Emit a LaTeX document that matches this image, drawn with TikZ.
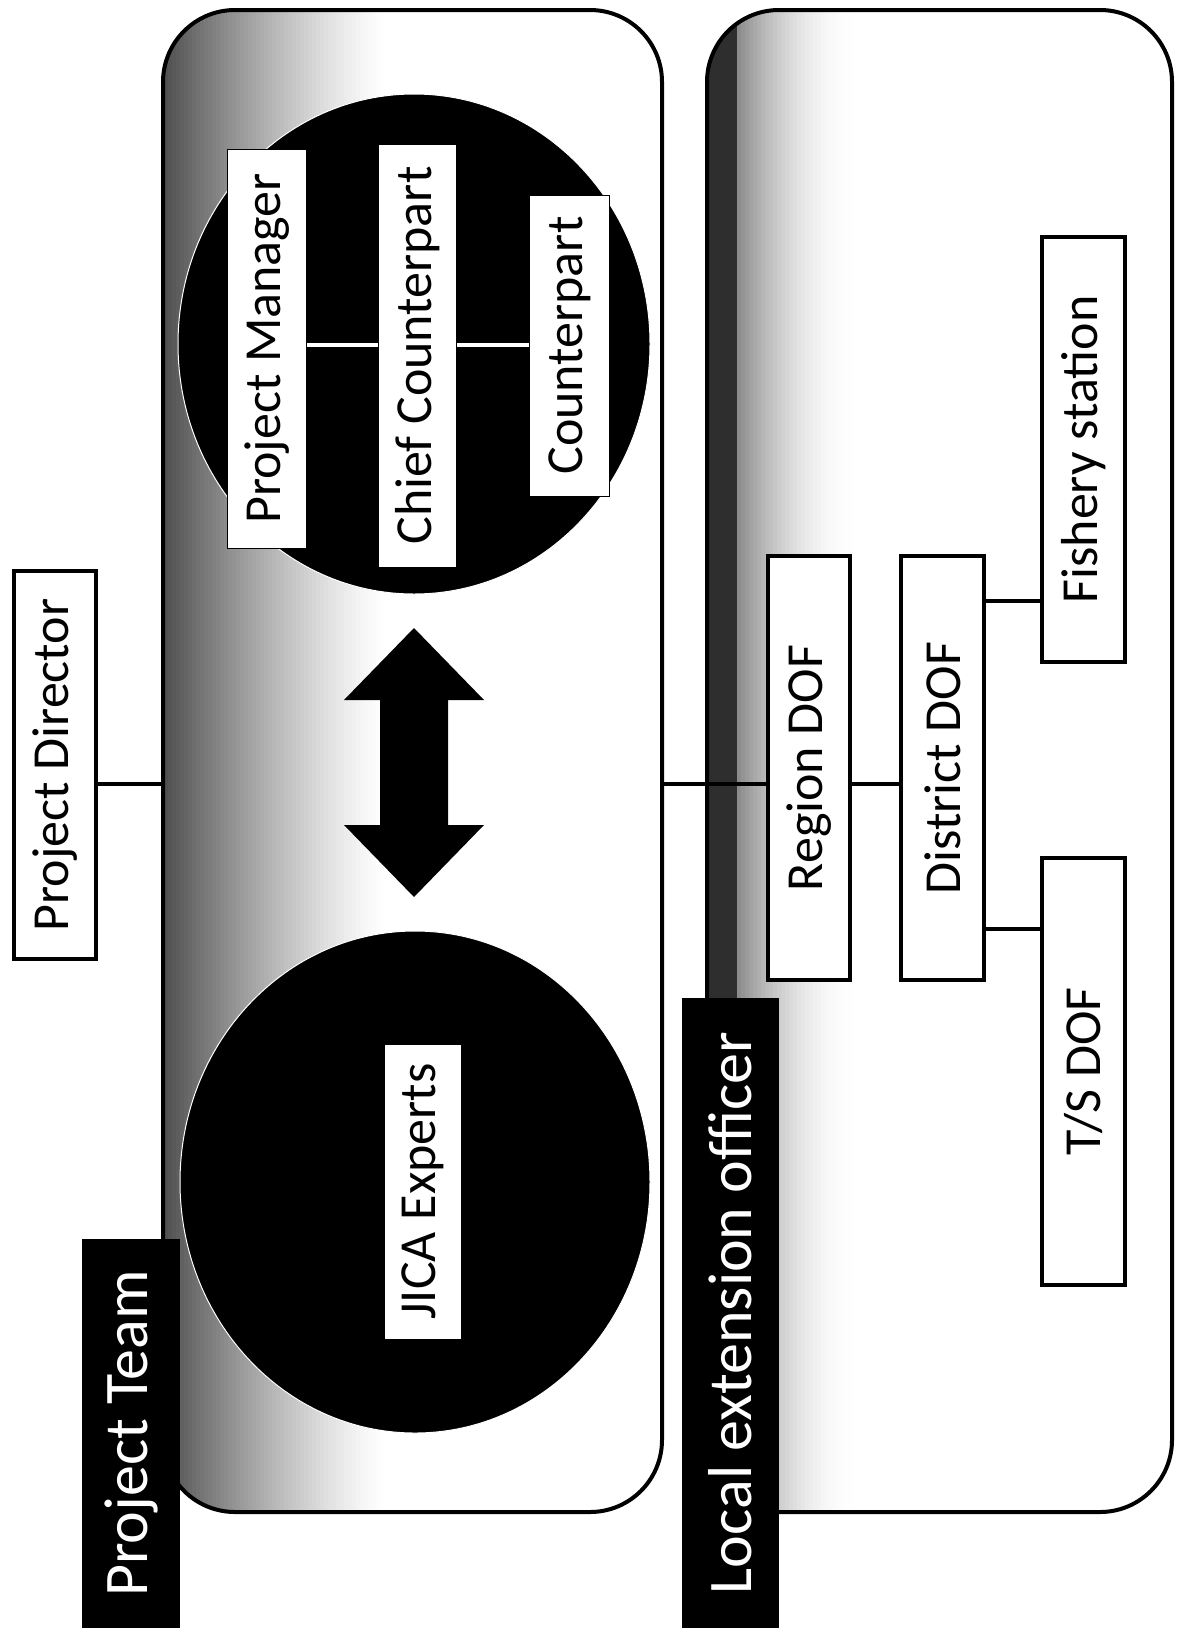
\documentclass[tikz,border=0pt]{standalone}
\usepackage{fontspec}
\setmainfont{Carlito}
\usetikzlibrary{shapes.geometric}
\begin{document}
\begin{tikzpicture}[x=1pt,y=-1pt,
  panel/.style={draw=black, line width=4pt, rounded corners=72pt, inner sep=0pt},
  unitbox/.style={draw=black, line width=4pt, fill=white, rotate=90, inner sep=0pt,
    font=\fontsize{52}{60}\selectfont},
  teambox/.style={draw=black, line width=1pt, fill=white, rotate=90, inner sep=0pt,
    font=\fontsize{52}{60}\selectfont},
  tagbox/.style={fill=black, text=white, rotate=90, inner sep=0pt,
    font=\fontsize{62}{70}\selectfont},
  blob/.style={ellipse, fill=black, draw=white, line width=1pt, inner sep=0pt},
  conn/.style={draw=black, line width=4pt},
  wconn/.style={draw=white, line width=4pt},
]
\useasboundingbox (0,0) rectangle (1176,1641);

% grey fade along the left edge of the project team panel
\begin{scope}
  \clip[rounded corners=72pt] (163,10) rectangle (662,1512);
  \foreach \i in {0,...,55} {
    \pgfmathsetmacro{\g}{70*(1-\i/56)^1.3}
    \fill[black!\g] ({160+4*\i},0) rectangle ({164.6+4*\i},1641);
  }
\end{scope}
% darker band and fade along the left edge of the extension panel
\begin{scope}
  \clip[rounded corners=72pt] (707,10) rectangle (1172,1512);
  \fill[black!82] (700,0) rectangle (737,1641);
  \foreach \i in {0,...,29} {
    \pgfmathsetmacro{\g}{45*(1-\i/30)^2}
    \fill[black!\g] ({737+4*\i},0) rectangle ({741.6+4*\i},1641);
  }
\end{scope}

% the two panel outlines
\node[panel, minimum width=499pt, minimum height=1502pt] (tp) at (412.5,761) {};
\node[panel, minimum width=465pt, minimum height=1502pt] (bp) at (939.5,761) {};

% management circle and experts circle
\node[blob, minimum width=472pt, minimum height=500pt] (mgmt) at (414,344) {};
\node[blob, minimum width=470pt, minimum height=502pt] (jica) at (415,1182) {};

% two-way cooperation arrow
\fill[black] (414,628) -- (484,700) -- (448,700) -- (448,825) -- (484,825)
  -- (414,897) -- (344,825) -- (380,825) -- (380,700) -- (344,700) -- cycle;

% members inside the circles
\node[teambox, minimum width=399pt, minimum height=79pt] (pm) at (267,348.5) {Project Manager};
\node[teambox, minimum width=423pt, minimum height=78pt] (cc) at (417.5,355.5) {Chief Counterpart};
\node[teambox, minimum width=301pt, minimum height=80pt] (cp) at (569.5,345.5) {Counterpart};
\node[teambox, minimum width=295pt, minimum height=77pt] (je) at (423,1191.5) {JICA Experts};

\coordinate (link) at (0,345);
\draw[wconn] (pm.south |- link) -- (cc.north |- link);
\draw[wconn] (cc.south |- link) -- (cp.north |- link);

% organisation boxes
\node[unitbox, minimum width=388pt, minimum height=82pt] (pd) at (55,765) {Project Director};
\node[unitbox, minimum width=424pt, minimum height=82pt] (region) at (809,768) {Region DOF};
\node[unitbox, minimum width=424pt, minimum height=83pt] (district) at (942.5,768) {District DOF};
\node[unitbox, minimum width=425pt, minimum height=83pt] (fishery) at (1083.5,449.5) {Fishery station};
\node[unitbox, minimum width=427pt, minimum height=83pt] (tsdof) at (1083.5,1071.5) {T/S DOF};

% panel titles
\node[tagbox, minimum width=389pt, minimum height=98pt] (ptag) at (131,1433.5) {Project Team};
\node[tagbox, minimum width=630pt, minimum height=97pt] (ltag) at (730.5,1313) {Local extension officer};

% reporting lines
\coordinate (trunk) at (0,784);
\coordinate (upper) at (0,601);
\coordinate (lower) at (0,929);
\draw[conn] (pd.south |- trunk) -- (tp.west |- trunk);
\draw[conn] (tp.east |- trunk) -- (region.north |- trunk);
\draw[conn] (region.south |- trunk) -- (district.north |- trunk);
\draw[conn] (district.south |- upper) -- (fishery.north |- upper);
\draw[conn] (district.south |- lower) -- (tsdof.north |- lower);
\end{tikzpicture}
\end{document}
